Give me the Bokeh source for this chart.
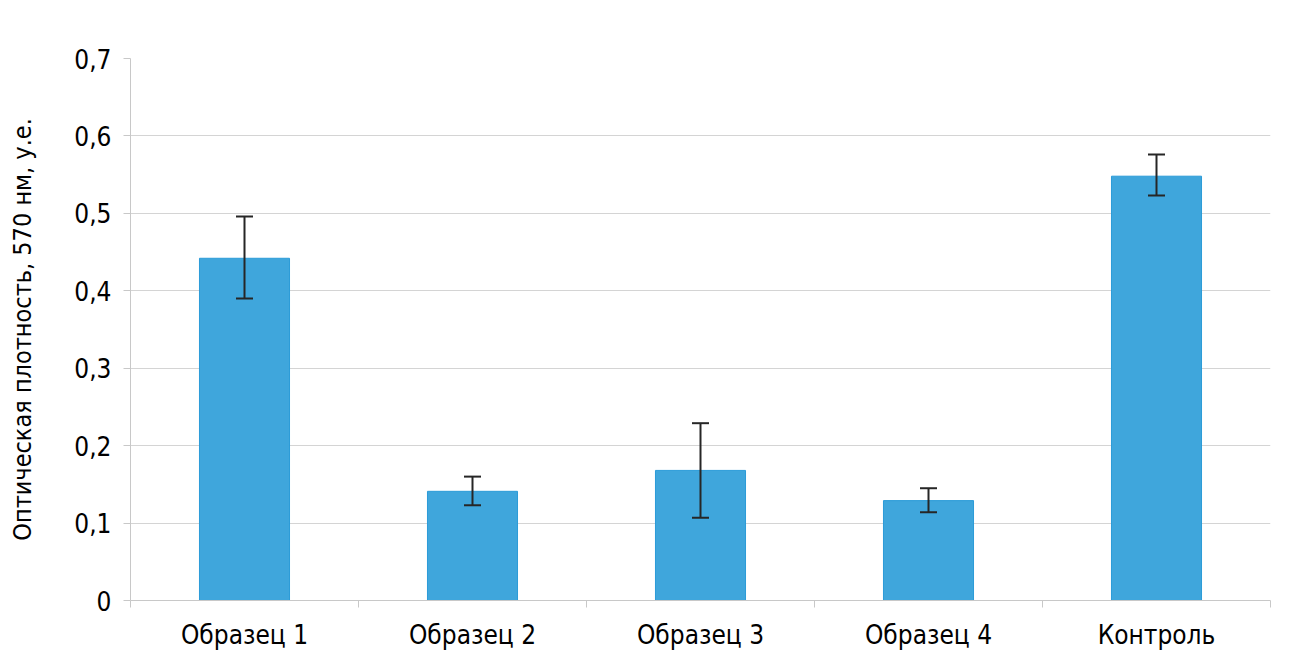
from bokeh.plotting import figure
from bokeh.models import ColumnDataSource, FixedTicker, Range1d, Whisker, TeeHead
from bokeh.embed import file_html
from bokeh.resources import INLINE

categories = ["Образец 1", "Образец 2", "Образец 3", "Образец 4", "Контроль"]
values = [0.442, 0.141, 0.168, 0.129, 0.548]
err_upper = [0.496, 0.160, 0.229, 0.145, 0.576]
err_lower = [0.390, 0.123, 0.107, 0.114, 0.523]
y_ticks = [0, 0.1, 0.2, 0.3, 0.4, 0.5, 0.6, 0.7]
y_tick_labels = ["0", "0,1", "0,2", "0,3", "0,4", "0,5", "0,6", "0,7"]

FONT = "'DejaVu Sans Condensed', 'Roboto Condensed', 'Liberation Sans Narrow', 'Open Sans Condensed', Roboto"

xs = [i + 0.5 for i in range(len(categories))]
src = ColumnDataSource(dict(x=xs, top=values, upper=err_upper, lower=err_lower))

p = figure(width=1283, height=662, output_backend="svg", toolbar_location=None,
           x_range=Range1d(0, len(categories)), y_range=Range1d(0, 0.7),
           min_border_left=130, min_border_right=13, min_border_top=58, min_border_bottom=62)
p.outline_line_color = None
p.background_fill_color = "white"

p.vbar(x="x", top="top", width=0.395, bottom=0, source=src,
       fill_color="#3fa6dc", line_color="#2b9bd8", line_width=1)

w = Whisker(base="x", upper="upper", lower="lower", source=src,
            line_color="#262626", line_width=2, level="overlay",
            upper_head=TeeHead(size=17, line_color="#262626", line_width=2),
            lower_head=TeeHead(size=17, line_color="#262626", line_width=2))
p.add_layout(w)

# y axis
p.yaxis.ticker = FixedTicker(ticks=y_ticks)
p.yaxis.major_label_overrides = {t: l for t, l in zip(y_ticks, y_tick_labels)}
p.yaxis.axis_label = "Оптическая плотность, 570 нм, у.е."
p.yaxis.axis_label_text_font = FONT
p.yaxis.axis_label_text_font_size = "25px"
p.yaxis.axis_label_text_font_style = "normal"
p.yaxis.axis_label_text_color = "black"
p.yaxis.major_label_text_font = FONT
p.yaxis.major_label_text_font_size = "26px"
p.yaxis.major_label_text_color = "black"
p.yaxis.axis_line_color = "#c8c8c8"
p.yaxis.major_tick_line_color = "#c8c8c8"
p.yaxis.major_tick_out = 7
p.yaxis.major_tick_in = 0
p.yaxis.minor_tick_line_color = None
p.yaxis.major_label_standoff = 12
p.yaxis.axis_label_standoff = 34

# x axis: labels at centers, tick marks at boundaries (minor ticks)
p.xaxis.ticker = FixedTicker(ticks=xs, minor_ticks=list(range(len(categories) + 1)))
p.xaxis.major_label_overrides = {x: c for x, c in zip(xs, categories)}
p.xaxis.major_label_text_font = FONT
p.xaxis.major_label_text_font_size = "26px"
p.xaxis.major_label_text_color = "black"
p.xaxis.axis_line_color = "#c8c8c8"
p.xaxis.major_tick_line_color = None
p.xaxis.major_tick_out = 0
p.xaxis.major_tick_in = 0
p.xaxis.minor_tick_line_color = "#c8c8c8"
p.xaxis.minor_tick_out = 7
p.xaxis.minor_tick_in = 0
p.xaxis.major_label_standoff = 12

p.xgrid.grid_line_color = None
p.ygrid.ticker = FixedTicker(ticks=y_ticks)
p.ygrid.grid_line_color = "#d4d4d4"
p.ygrid.grid_line_width = 1

open("out.html", "w").write(file_html(p, INLINE))
